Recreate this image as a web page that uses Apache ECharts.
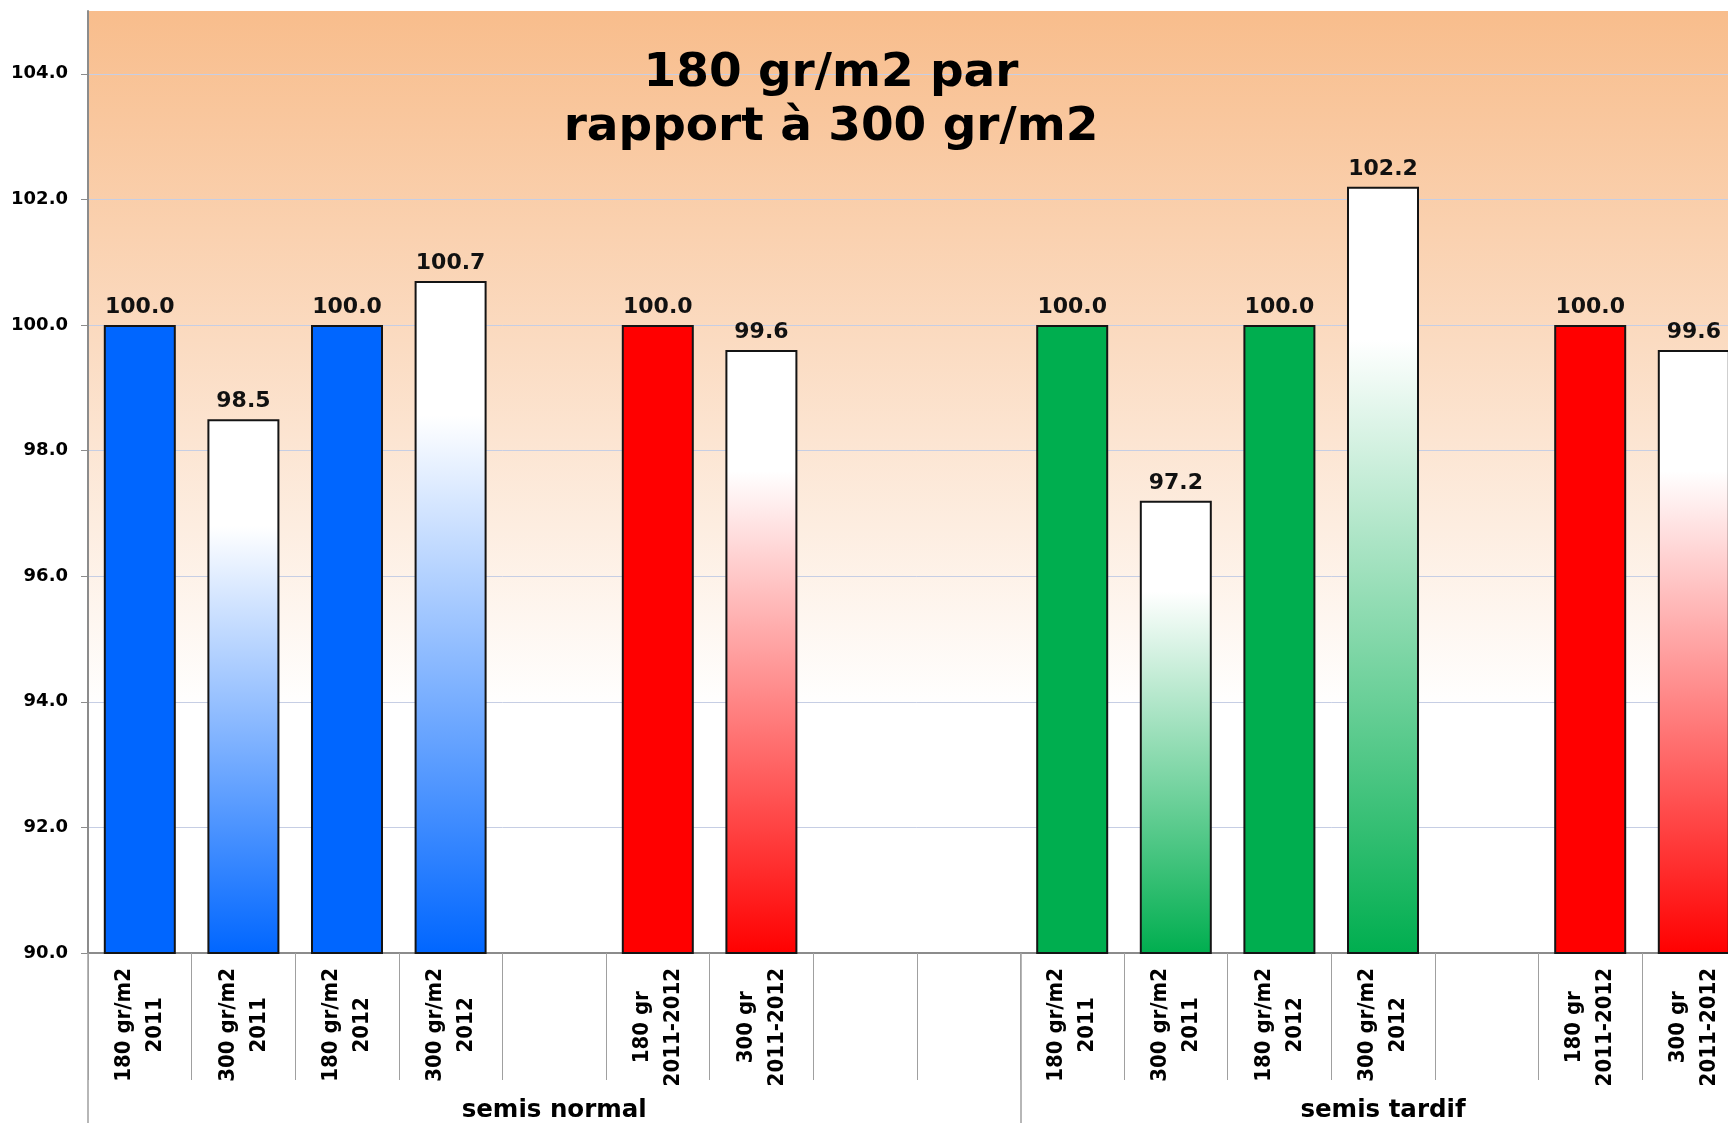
<!DOCTYPE html>
<html>
<head>
<meta charset="utf-8">
<script src="https://cdn.jsdelivr.net/npm/echarts@6/dist/echarts.min.js"></script>
<style>
html,body{margin:0;padding:0;background:#fff;overflow:hidden;}
#chart{width:1760px;height:1127px;}
</style>
</head>
<body>
<div id="chart"></div>
<script>
// ---- data ----
const categories = [
  '180 gr/m2\n2011', '300 gr/m2\n2011', '180 gr/m2\n2012', '300 gr/m2\n2012', '',
  '180 gr\n2011-2012', '300 gr\n2011-2012', '', '',
  '180 gr/m2\n2011', '300 gr/m2\n2011', '180 gr/m2\n2012', '300 gr/m2\n2012', '',
  '180 gr\n2011-2012', '300 gr\n2011-2012'
];
const values = [100.0, 98.5, 100.0, 100.7, null, 100.0, 99.6, null, null,
                100.0, 97.2, 100.0, 102.2, null, 100.0, 99.6];
const barColors = ['#0066FF', '#0066FF', '#0066FF', '#0066FF', null, '#FF0000', '#FF0000', null, null,
                   '#00AE4F', '#00AE4F', '#00AE4F', '#00AE4F', null, '#FF0000', '#FF0000'];
const barFaded = [false, true, false, true, false, false, true, false, false,
                  false, true, false, true, false, false, true];
const groupNames = ['semis normal', 'semis tardif'];
const groupBounds = [0, 9, 16];
const yTicks = [90, 92, 94, 96, 98, 100, 102, 104];
const titleText = '180 gr/m2 par\nrapport à 300 gr/m2';

// ---- chart ----
const chart = echarts.init(document.getElementById('chart'), null, {renderer: 'canvas'});
const FONT = 'DejaVu Sans';
const NARROW = '"Liberation Sans Narrow", "DejaVu Sans Condensed", "Liberation Sans"';

const groupCenters = groupNames.map((g, i) => (groupBounds[i] + groupBounds[i + 1]) / 2);

const seriesData = values.map((v, i) => {
  if (v == null) return null;
  const c = barColors[i];
  const fill = barFaded[i]
    ? new echarts.graphic.LinearGradient(0, 0, 0, 1, [
        {offset: 0, color: '#FFFFFF'},
        {offset: 0.2, color: '#FFFFFF'},
        {offset: 1, color: c}
      ])
    : c;
  return {value: v, itemStyle: {color: fill}};
});

const option = {
  animation: false,
  title: {
    text: titleText,
    left: 826,
    top: 42,
    textAlign: 'center',
    textStyle: {fontFamily: FONT, fontWeight: 'bold', fontSize: 47, lineHeight: 54, color: '#000'}
  },
  grid: {
    left: 88, top: 11, width: 1657.6, height: 942,
    show: true, borderWidth: 0,
    backgroundColor: new echarts.graphic.LinearGradient(0, 0, 0, 1, [
      {offset: 0, color: '#F8BD8C'},
      {offset: 0.35, color: '#FBDBC1'},
      {offset: 0.74, color: '#FFFFFF'},
      {offset: 1, color: '#FFFFFF'}
    ])
  },
  xAxis: [
    {
      type: 'category',
      data: categories,
      position: 'bottom',
      axisLine: {show: true, lineStyle: {color: '#8C8C8C', width: 2}},
      axisTick: {show: true, length: 127, interval: 0, lineStyle: {color: '#A0A0A0', width: 1}},
      axisLabel: {
        interval: 0, rotate: 90, margin: 15, hideOverlap: false,
        formatter: v => v ? v.split('\n').map(s => '{c|' + s + '}').join('\n') : '',
        rich: {c: {align: 'center', fontFamily: NARROW, fontWeight: 'bold', fontSize: 22, lineHeight: 31, color: '#000'}}
      },
      splitLine: {show: false}
    },
    {
      type: 'value',
      min: groupBounds[0], max: groupBounds[groupBounds.length - 1],
      position: 'bottom',
      axisLine: {show: false},
      axisTick: {show: true, length: 170, customValues: groupBounds, lineStyle: {color: '#A0A0A0', width: 1.5}},
      axisLabel: {
        customValues: groupCenters, margin: 145,
        formatter: v => { const k = groupCenters.indexOf(v); return k >= 0 ? groupNames[k] : ''; },
        fontFamily: FONT, fontWeight: 'bold', fontSize: 24.5, color: '#000'
      },
      splitLine: {show: false}
    }
  ],
  yAxis: {
    type: 'value', min: 90, max: 105, interval: 2,
    axisLine: {show: true, lineStyle: {color: '#8C8C8C', width: 2}},
    axisTick: {show: true, length: 7, customValues: yTicks, lineStyle: {color: '#8C8C8C', width: 1}},
    axisLabel: {
      customValues: yTicks, margin: 20,
      formatter: v => v.toFixed(1),
      fontFamily: FONT, fontWeight: 'bold', fontSize: 18, color: '#000'
    },
    splitLine: {show: true, lineStyle: {color: '#C6CEE4', width: 1}}
  },
  series: [{
    type: 'bar',
    xAxisIndex: 0,
    data: seriesData,
    barWidth: 72,
    itemStyle: {borderColor: '#141414', borderWidth: 2},
    label: {
      show: true, position: 'top', distance: 7,
      formatter: p => p.value.toFixed(1),
      fontFamily: FONT, fontWeight: 'bold', fontSize: 22, color: '#111'
    }
  }]
};
chart.setOption(option);
</script>
</body>
</html>
